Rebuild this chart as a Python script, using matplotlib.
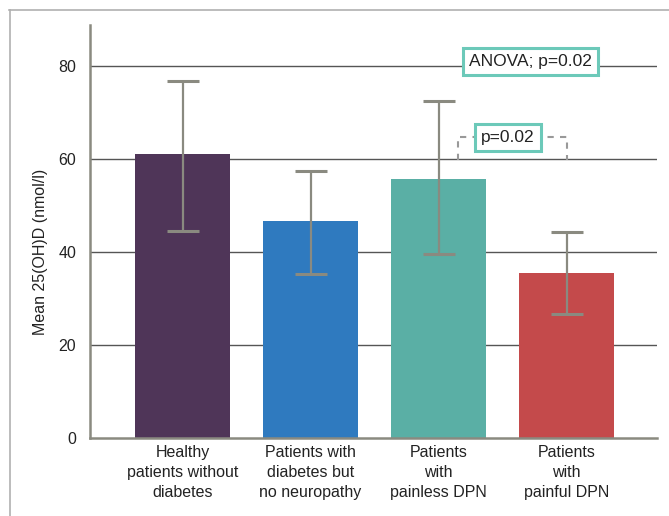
import matplotlib
matplotlib.use('Agg')
import matplotlib.pyplot as plt
from matplotlib.lines import Line2D
import numpy as np

plt.rcParams['font.family'] = ['Liberation Sans Narrow', 'Liberation Sans', 'DejaVu Sans']

groups = ['Healthy\npatients without\ndiabetes',
          'Patients with\ndiabetes but\nno neuropathy',
          'Patients\nwith\npainless DPN',
          'Patients\nwith\npainful DPN']
means = [61.0, 46.7, 55.7, 35.5]
err_hi = [76.8, 57.4, 72.5, 44.3]
err_lo = [44.5, 35.3, 39.6, 26.7]
colors = ['#4f3558', '#2f7abf', '#5aafa5', '#c44a4b']
yticks = [0, 20, 40, 60, 80]

x = np.arange(len(groups))
means_a = np.array(means)
yerr = [means_a - np.array(err_lo), np.array(err_hi) - means_a]

fig = plt.figure(figsize=(6.69, 5.16), dpi=100)
ax = fig.add_axes([90 / 669, (516 - 438) / 516, (657 - 90) / 669, (438 - 25) / 516])

for t in yticks[1:]:
    ax.axhline(t, color='#555555', lw=1.0, zorder=1)

ax.bar(x, means, width=0.742, color=colors, zorder=2)
ax.errorbar(x, means, yerr=yerr, fmt='none', ecolor='#8a8a80', elinewidth=1.6,
            capsize=11.5, capthick=2.2, zorder=3)

ax.set_xlim(-0.723, 3.707)
ax.set_ylim(0, 88.8)
ax.set_yticks(yticks)
ax.set_xticks(x)
ax.set_xticklabels(groups, fontsize=11.5, color='#222222', linespacing=1.42)
ax.tick_params(axis='y', length=0, labelsize=11.5, labelcolor='#222222', pad=10)
ax.tick_params(axis='x', length=0, pad=5)
for s in ['top', 'right']:
    ax.spines[s].set_visible(False)
for s in ['left', 'bottom']:
    ax.spines[s].set_color('#8a8a80')
    ax.spines[s].set_linewidth(1.8)
ax.set_ylabel('Mean 25(OH)D (nmol/l)', fontsize=11.5, color='#222222')
ax.yaxis.set_label_coords(-0.074, 0.45)

# significance annotations
box = dict(boxstyle='square,pad=0.35', fc='white', ec='#6cc9b9', lw=2.2)
ax.text(2.72, 81.0, 'ANOVA; p=0.02', ha='center', va='center', fontsize=12.5,
        color='#222222', bbox=box, zorder=5)
ax.plot([2.15, 2.15, 3.0, 3.0], [59.8, 64.7, 64.7, 59.8], ls=(0, (3, 3)),
        color='#999999', lw=1.5, zorder=4)
ax.text(2.543, 64.7, 'p=0.02', ha='center', va='center', fontsize=12.5,
        color='#222222', bbox=box, zorder=5)

# outer frame
fig.add_artist(Line2D([9 / 669, 1], [1 - 10 / 516, 1 - 10 / 516], color='#b0b0b0', lw=1.2))
fig.add_artist(Line2D([10 / 669, 10 / 669], [0, 1 - 10 / 516], color='#b0b0b0', lw=1.2))

fig.savefig('out.png', dpi=100)
